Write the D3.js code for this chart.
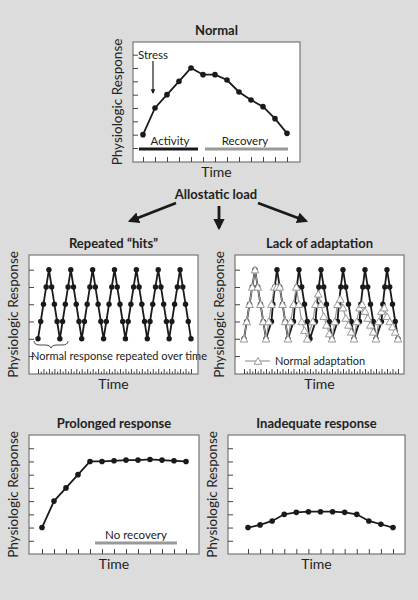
<!DOCTYPE html>
<html><head><meta charset="utf-8">
<script src="https://cdn.jsdelivr.net/npm/d3@7"></script>
<style>body{margin:0;background:#dcdcdc}svg{display:block}text{font-family:Lato,"Open Sans",sans-serif;fill:#222}</style>
</head><body><svg id="c" width="418" height="600"></svg>
<script>
const normalY=[1,3,4,5,6,5.5,5.5,5.1,4.2,3.6,3.1,2.2,1.1];
const prolongedY=[1,3,4,5,6,6,6.05,6.1,6.1,6.15,6.1,6.05,6];
const inadequateY=[1,1.2,1.5,2,2.15,2.2,2.2,2.2,2.15,2,1.5,1.25,1];
const repeatedY=[1,2,3,4,5,4,3,2,1,2,3,4,5,4,3,2,1,2,3,4,5,4,3,2,1,2,3,4,5,4,3,2,1,2,3,4,5,4,3,2,1,2,3,4,5,4,3,2,1,2,3,4,5,4,3,2,1];
const lackBlack=[[0,1],[1,2],[2,3],[3,4],[4,5],[5,4],[6,3],[7,2],[8,1],
[10,2],[10.5,3],[11.2,4],[12,5],[13,4],[14,3],[15,2],[16,1],
[18,2],[18.5,3],[19.2,4],[20,5],[21,4],[22,3],[23,2],[24,1],
[26,2],[26.5,3],[27.2,4],[28,5],[29,4],[30,3],[31,2],[32,1],
[34,2],[34.5,3],[35.2,4],[36,5],[37,4],[38,3],[39,2],[40,1],
[42,2],[42.5,3],[43.2,4],[44,5],[45,4],[46,3],[47,2],[48,1],
[50,2],[50.5,3],[51.2,4],[52,5],[53,4],[54,3],[55,2],[56,1]];
const lackGray=[[0,1],[1,2],[2,3],[3,4],[4,5],[5,4],[6,3],[7,2],[8,1],
[9,2],[10,3],[11,4],[12,4],[13,4],[14,3],[15,2],[16,1],
[17,2],[18,3],[19,4],[20,3],[21,2],[22,1.5],[23,1],
[25,2],[26,3],[27,3.6],[28,3],[29,2.3],[30,1.8],[31,1.3],[32,1],
[33,2],[34,3],[35,3.3],[36,2.8],[37,2.2],[38,1.8],[39,1.4],[40,1],
[41,2],[42,2.8],[43,3],[44,2.6],[45,2.2],[46,1.8],[47,1.4],[48,1],
[49,2],[50,2.6],[51,2.8],[52,2.3],[53,2],[54,1.7],[55,1.4],[56,1]];
const titles=["Normal","Repeated “hits”","Lack of adaptation","Prolonged response","Inadequate response"];

const svg=d3.select("#c");
function panel(o){
  const g=svg.append("g");
  g.append("rect").attr("x",o.x0).attr("y",o.y0).attr("width",o.x1-o.x0).attr("height",o.y1-o.y0)
   .attr("fill","#fff").attr("stroke","#777").attr("stroke-width",1.2);
  const x=d3.scaleLinear().domain(o.xd).range([o.px0,o.px1]);
  const y=d3.scaleLinear().domain(o.yd).range([o.y1,o.y0]);
  const ya=g.append("g").attr("transform",`translate(${o.x0},0)`).call(d3.axisRight(y).tickValues(o.yt).tickSize(5).tickFormat(""));
  ya.select(".domain").remove(); ya.selectAll("line").attr("stroke","#444");
  const xa=g.append("g").attr("transform",`translate(0,${o.y1})`).call(d3.axisTop(x).tickValues(o.xt).tickSize(5).tickFormat(""));
  xa.select(".domain").remove(); xa.selectAll("line").attr("stroke","#444");
  if(o.alt) xa.selectAll(".tick line").attr("y2",(d,i)=>i%2?-2.5:-5);
  g.append("text").attr("x",(o.x0+o.x1)/2).attr("y",o.y0-7).attr("text-anchor","middle")
   .attr("font-size",13).attr("font-weight","bold").text(o.title);
  g.append("text").attr("x",(o.x0+o.x1)/2).attr("y",o.y1+15).attr("text-anchor","middle").attr("font-size",14).text("Time");
  g.append("text").attr("transform",`translate(${o.x0-11},${(o.y0+o.y1)/2}) rotate(-90)`).attr("text-anchor","middle").attr("font-size",13.5).text("Physiologic Response");
  return {g,x,y};
}
function series(p,data,color,r,tri){
  const line=d3.line().x(d=>p.x(d[0])).y(d=>p.y(d[1]));
  p.g.append("path").attr("d",line(data)).attr("fill","none").attr("stroke",color).attr("stroke-width",tri?1.2:1.8);
  if(tri){
    p.g.selectAll(null).data(data).join("path").attr("d",d3.symbol(d3.symbolTriangle,26)())
     .attr("transform",d=>`translate(${p.x(d[0])},${p.y(d[1])+1})`).attr("fill","#fff").attr("stroke","#999").attr("stroke-width",1);
  } else {
    p.g.selectAll(null).data(data).join("circle").attr("cx",d=>p.x(d[0])).attr("cy",d=>p.y(d[1])).attr("r",r).attr("fill",color);
  }
}
const idx13=d3.range(13);
const pn=panel({x0:133,x1:300,y0:42,y1:162,xd:[0,12],px0:143,px1:287,yd:[-1.05,7.95],yt:d3.range(8),xt:idx13,title:titles[0]});
series(pn,normalY.map((v,i)=>[i,v]),"#1a1a1a",2.8);
pn.g.append("line").attr("x1",139).attr("x2",198).attr("y1",149).attr("y2",149).attr("stroke","#1a1a1a").attr("stroke-width",3);
pn.g.append("line").attr("x1",205).attr("x2",288).attr("y1",149).attr("y2",149).attr("stroke","#999").attr("stroke-width",3);
pn.g.append("text").attr("x",170).attr("y",145).attr("text-anchor","middle").attr("font-size",11.5).text("Activity");
pn.g.append("text").attr("x",245).attr("y",145).attr("text-anchor","middle").attr("font-size",11.5).text("Recovery");
pn.g.append("text").attr("x",138).attr("y",59).attr("font-size",11.5).text("Stress");
svg.append("defs").append("marker").attr("id","ah").attr("viewBox","0 0 10 10").attr("refX",8).attr("refY",5)
 .attr("markerWidth",4).attr("markerHeight",4).attr("orient","auto").append("path").attr("d","M0,0L10,5L0,10z").attr("fill","#1a1a1a");
pn.g.append("line").attr("x1",153).attr("x2",153).attr("y1",61).attr("y2",93).attr("stroke","#1a1a1a").attr("stroke-width",1.2).attr("marker-end","url(#ah)");
svg.append("text").attr("x",216).attr("y",199).attr("text-anchor","middle").attr("font-size",13).attr("font-weight","bold").text("Allostatic load");
[[176,203,130,221],[219,206,219,228],[258,203,306,221]].forEach(a=>svg.append("line").attr("x1",a[0]).attr("y1",a[1]).attr("x2",a[2]).attr("y2",a[3])
 .attr("stroke","#1a1a1a").attr("stroke-width",2.8).attr("marker-end","url(#ah)"));
const idx57=d3.range(57);
const pr=panel({x0:29,x1:198,y0:255,y1:374,xd:[0,56],px0:38,px1:191,yd:[-1.04,5.85],yt:d3.range(6),xt:idx57,alt:true,title:titles[1]});
series(pr,repeatedY.map((v,i)=>[i,v]),"#1a1a1a",2.7);
pr.g.append("path").attr("d","M34,341 q0,4 6,4 h6 q4,0 5,3 q1,-3 5,-3 h6 q6,0 6,-4").attr("fill","none").attr("stroke","#333").attr("stroke-width",0.9);
pr.g.append("text").attr("x",31).attr("y",360).attr("font-size",11).attr("fill","#222").text("Normal response repeated over time");
const pl=panel({x0:235,x1:404,y0:255,y1:374,xd:[0,56],px0:244,px1:398,yd:[-1.04,5.85],yt:d3.range(6),xt:idx57,alt:true,title:titles[2]});
series(pl,lackBlack,"#1a1a1a",2.7);
series(pl,lackGray,"#999",0,true);
pl.g.append("line").attr("x1",245).attr("x2",270).attr("y1",361).attr("y2",361).attr("stroke","#999").attr("stroke-width",1.2);
pl.g.append("path").attr("d",d3.symbol(d3.symbolTriangle,26)()).attr("transform","translate(258,362)").attr("fill","#fff").attr("stroke","#999");
pl.g.append("text").attr("x",275).attr("y",365).attr("font-size",11).style("fill","#222").text("Normal adaptation");
const pp=panel({x0:29,x1:199,y0:435,y1:554,xd:[0,12],px0:42,px1:186,yd:[-1,8],yt:d3.range(8),xt:idx13,title:titles[3]});
series(pp,prolongedY.map((v,i)=>[i,v]),"#1a1a1a",2.8);
pp.g.append("line").attr("x1",95).attr("x2",177).attr("y1",543).attr("y2",543).attr("stroke","#999").attr("stroke-width",3);
pp.g.append("text").attr("x",136).attr("y",539).attr("text-anchor","middle").attr("font-size",11.5).text("No recovery");
const pi=panel({x0:228,x1:405,y0:435,y1:554,xd:[0,12],px0:248,px1:393,yd:[-1,8],yt:d3.range(8),xt:idx13,title:titles[4]});
series(pi,inadequateY.map((v,i)=>[i,v]),"#1a1a1a",2.8);
</script></body></html>
